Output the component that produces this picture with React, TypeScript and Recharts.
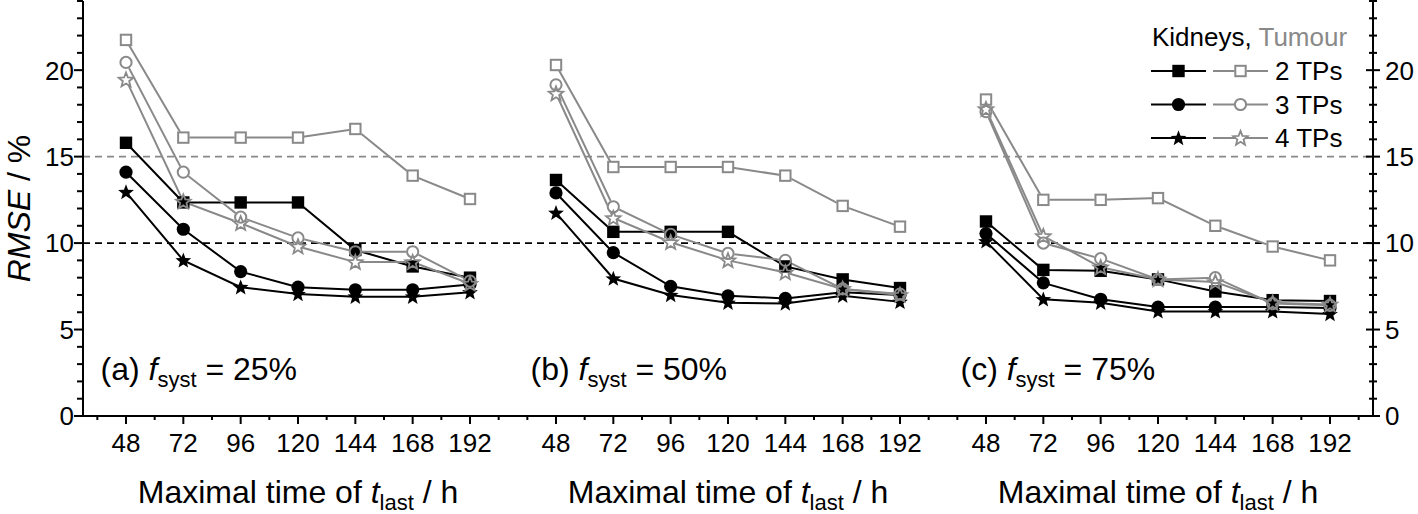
import React from 'react';
import { LineChart, Line, XAxis, YAxis, ReferenceLine } from 'recharts';

// ---------------- data ----------------
const times = [48, 72, 96, 120, 144, 168, 192];
const xMajorTicks = [48, 72, 96, 120, 144, 168, 192];
const xMinorTicks = [36, 60, 84, 108, 132, 156, 180, 204];
const xTicks = [36, 48, 60, 72, 84, 96, 108, 120, 132, 144, 156, 168, 180, 192, 204];
const yTicks = [0, 1, 2, 3, 4, 5, 6, 7, 8, 9, 10, 11, 12, 13, 14, 15, 16, 17, 18, 19, 20, 21, 22, 23, 24];
const yMajorTicks = [0, 5, 10, 15, 20];

// panel (a) f_syst = 25%
const kid2A = [15.8, 12.35, 12.35, 12.35, 9.6, 8.65, 8.0];
const kid3A = [14.1, 10.8, 8.35, 7.45, 7.3, 7.3, 7.6];
const kid4A = [12.95, 9.0, 7.45, 7.05, 6.9, 6.9, 7.15];
const tum2A = [21.75, 16.1, 16.1, 16.1, 16.6, 13.9, 12.55];
const tum3A = [20.45, 14.1, 11.5, 10.3, 9.5, 9.5, 7.8];
const tum4A = [19.45, 12.4, 11.15, 9.8, 8.9, 8.9, 7.65];

// panel (b) f_syst = 50%
const kid2B = [13.65, 10.65, 10.65, 10.65, 8.65, 7.9, 7.4];
const kid3B = [12.9, 9.45, 7.5, 6.95, 6.8, 7.15, 7.0];
const kid4B = [11.75, 7.95, 7.0, 6.55, 6.5, 6.95, 6.6];
const tum2B = [20.3, 14.4, 14.4, 14.4, 13.9, 12.15, 10.95];
const tum3B = [19.15, 12.1, 10.5, 9.4, 9.0, 7.35, 7.05];
const tum4B = [18.65, 11.45, 10.05, 9.0, 8.3, 7.35, 7.0];

// panel (c) f_syst = 75%
const kid2C = [11.25, 8.45, 8.4, 7.9, 7.2, 6.7, 6.65];
const kid3C = [10.55, 7.7, 6.75, 6.3, 6.3, 6.3, 6.25];
const kid4C = [10.1, 6.75, 6.55, 6.05, 6.05, 6.05, 5.9];
const tum2C = [18.3, 12.5, 12.5, 12.6, 11.0, 9.8, 9.0];
const tum3C = [17.6, 10.0, 9.1, 7.9, 8.0, 6.5, 6.4];
const tum4C = [17.75, 10.4, 8.6, 7.9, 7.75, 6.55, 6.45];

const panelNames = ['(a)', '(b)', '(c)'];
const panelFsyst = ['25%', '50%', '75%'];
const legendRows = ['2 TPs', '3 TPs', '4 TPs'];

// ---------------- style ----------------
const FONT = '"Liberation Sans", Arial, Helvetica, sans-serif';
const GRAY = '#898989';
const BLACK = '#000000';
const W = 1418;
const H = 514;
const PLOT_TOP = 1;
const PLOT_BOTTOM = 416;
const PANEL_LEFTS = [83, 513, 943];
const PANEL_W = 430;
const TICK_FONT = 26;

type Shape = 'square' | 'circle' | 'star';

const buildRows = (k2: number[], k3: number[], k4: number[], t2: number[], t3: number[], t4: number[]) =>
  times.map((t, i) => ({ t, k2: k2[i], k3: k3[i], k4: k4[i], t2: t2[i], t3: t3[i], t4: t4[i] }));

const panelRows = [
  buildRows(kid2A, kid3A, kid4A, tum2A, tum3A, tum4A),
  buildRows(kid2B, kid3B, kid4B, tum2B, tum3B, tum4B),
  buildRows(kid2C, kid3C, kid4C, tum2C, tum3C, tum4C),
];

const series: { key: string; shape: Shape; filled: boolean; color: string }[] = [
  { key: 'k2', shape: 'square', filled: true, color: BLACK },
  { key: 'k3', shape: 'circle', filled: true, color: BLACK },
  { key: 'k4', shape: 'star', filled: true, color: BLACK },
  { key: 't2', shape: 'square', filled: false, color: GRAY },
  { key: 't3', shape: 'circle', filled: false, color: GRAY },
  { key: 't4', shape: 'star', filled: false, color: GRAY },
];

function starPath(cx: number, cy: number, R: number, r: number) {
  let d = '';
  for (let i = 0; i < 10; i++) {
    const rad = i % 2 === 0 ? R : r;
    const a = -Math.PI / 2 + (i * Math.PI) / 5;
    d += (i === 0 ? 'M' : 'L') + (cx + rad * Math.cos(a)).toFixed(2) + ',' + (cy + rad * Math.sin(a)).toFixed(2);
  }
  return d + 'Z';
}

function Marker({ cx, cy, shape, filled, color, bg }: { cx: number; cy: number; shape: Shape; filled: boolean; color: string; bg?: boolean }) {
  if (cx == null || cy == null || isNaN(cx) || isNaN(cy)) return <g />;
  if (bg) {
    if (shape === 'square') return <rect x={cx - 6} y={cy - 6} width={12} height={12} fill="#fff" />;
    if (shape === 'circle') return <circle cx={cx} cy={cy} r={6.5} fill="#fff" />;
    return <path d={starPath(cx, cy, 8.5, 3.8)} fill="#fff" />;
  }
  if (filled) {
    if (shape === 'square') return <rect x={cx - 6.2} y={cy - 6.2} width={12.4} height={12.4} fill={color} />;
    if (shape === 'circle') return <circle cx={cx} cy={cy} r={6.6} fill={color} />;
    return <path d={starPath(cx, cy + 0.5, 8.3, 3.5)} fill={color} />;
  }
  if (shape === 'square') return <rect x={cx - 5.2} y={cy - 5.2} width={10.4} height={10.4} fill="none" stroke={color} strokeWidth={2} />;
  if (shape === 'circle') return <circle cx={cx} cy={cy} r={5.6} fill="none" stroke={color} strokeWidth={2} />;
  return <path d={starPath(cx, cy + 0.5, 7.6, 3.3)} fill="none" stroke={color} strokeWidth={1.8} strokeLinejoin="miter" />;
}

// ---------------- ticks ----------------
const isMajorX = (v: number) => xMajorTicks.indexOf(v) >= 0;
const isMajorY = (v: number) => yMajorTicks.indexOf(v) >= 0;

const XTickBottom = (p: any) => {
  const v = p.payload.value;
  const major = isMajorX(v);
  return (
    <g>
      <line x1={p.x} x2={p.x} y1={p.y} y2={p.y + (major ? 8 : 4)} stroke={BLACK} strokeWidth={2} />
      {major && (
        <text x={p.x} y={p.y + 36} textAnchor="middle" fontFamily={FONT} fontSize={TICK_FONT} fill={BLACK}>
          {v}
        </text>
      )}
    </g>
  );
};

const XTickTop = (p: any) => {
  const v = p.payload.value;
  const major = isMajorX(v);
  return <line x1={p.x} x2={p.x} y1={p.y} y2={p.y + (major ? 8 : 5)} stroke={BLACK} strokeWidth={2} />;
};

const YTickLeftOut = (p: any) => {
  const v = p.payload.value;
  const major = isMajorY(v);
  return (
    <g>
      <line x1={p.x - (major ? 9 : 6)} x2={p.x} y1={p.y} y2={p.y} stroke={BLACK} strokeWidth={2} />
      {major && (
        <text x={p.x - 9} y={p.y} dy="0.36em" textAnchor="end" fontFamily={FONT} fontSize={TICK_FONT} fill={BLACK}>
          {v}
        </text>
      )}
    </g>
  );
};

const YTickCross = (p: any) => {
  const v = p.payload.value;
  const major = isMajorY(v);
  const h = major ? 7 : 4;
  return <line x1={p.x - h} x2={p.x + h} y1={p.y} y2={p.y} stroke={BLACK} strokeWidth={2} />;
};

const YTickRightLabel = (p: any) => {
  const v = p.payload.value;
  const major = isMajorY(v);
  const h = major ? 7 : 4;
  return (
    <g>
      <line x1={p.x - h} x2={p.x + h} y1={p.y} y2={p.y} stroke={BLACK} strokeWidth={2} />
      {major && (
        <text x={p.x + 12} y={p.y} dy="0.36em" textAnchor="start" fontFamily={FONT} fontSize={TICK_FONT} fill={BLACK}>
          {v}
        </text>
      )}
    </g>
  );
};

// ---------------- panel ----------------
function Panel({ idx }: { idx: number }) {
  const rows = panelRows[idx];
  const left = PANEL_LEFTS[idx];
  const isFirst = idx === 0;
  const isLast = idx === 2;
  const leftW = isFirst ? left : 0;
  const marginLeft = isFirst ? 0 : left;
  const rightW = isLast ? W - (left + PANEL_W) : 0;
  const marginRight = isLast ? 0 : W - (left + PANEL_W);
  const axisLine = { stroke: BLACK, strokeWidth: 2 };

  const blackS = series.filter((s) => s.filled);
  const grayS = series.filter((s) => !s.filled);

  return (
    <div style={{ position: 'absolute', left: 0, top: 0, width: W, height: H }}>
      <LineChart width={W} height={H} data={rows} margin={{ top: PLOT_TOP, right: marginRight, bottom: 0, left: marginLeft }}>
        <XAxis
          xAxisId="b"
          dataKey="t"
          type="number"
          domain={[30, 210]}
          ticks={xTicks}
          interval={0}
          height={H - PLOT_BOTTOM}
          tickSize={0}
          tickMargin={0}
          tickLine={false}
          tick={XTickBottom}
          axisLine={axisLine}
          allowDataOverflow
        />
        <XAxis
          xAxisId="t"
          orientation="top"
          dataKey="t"
          type="number"
          domain={[30, 210]}
          ticks={xTicks}
          interval={0}
          height={0}
          tickSize={0}
          tickMargin={0}
          tickLine={false}
          tick={XTickTop}
          axisLine={axisLine}
          allowDataOverflow
        />
        <YAxis
          yAxisId="l"
          type="number"
          domain={[0, 24]}
          ticks={yTicks}
          interval={0}
          width={leftW}
          tickSize={0}
          tickMargin={0}
          tickLine={false}
          tick={isFirst ? YTickLeftOut : YTickCross}
          axisLine={axisLine}
          allowDataOverflow
        />
        <YAxis
          yAxisId="r"
          orientation="right"
          type="number"
          domain={[0, 24]}
          ticks={yTicks}
          interval={0}
          width={rightW}
          tickSize={0}
          tickMargin={0}
          tickLine={false}
          tick={isLast ? YTickRightLabel : YTickCross}
          axisLine={axisLine}
          allowDataOverflow
        />
        <ReferenceLine xAxisId="b" yAxisId="l" y={15} stroke={GRAY} strokeWidth={1.6} strokeDasharray="7 5" />
        <ReferenceLine xAxisId="b" yAxisId="l" y={10} stroke={BLACK} strokeWidth={1.6} strokeDasharray="7 5" />
        {series.map((s) => (
          <Line
            key={'line-' + s.key}
            xAxisId="b"
            yAxisId="l"
            dataKey={s.key}
            stroke={s.color}
            strokeWidth={2}
            dot={false}
            activeDot={false}
            isAnimationActive={false}
          />
        ))}
        {grayS.map((s) => (
          <Line
            key={'bg-' + s.key}
            xAxisId="b"
            yAxisId="l"
            dataKey={s.key}
            stroke="none"
            activeDot={false}
            isAnimationActive={false}
            dot={(p: any) => <Marker key={'bg' + s.key + p.index} cx={p.cx} cy={p.cy} shape={s.shape} filled={false} color="#fff" bg />}
          />
        ))}
        {[...blackS, ...grayS].map((s) => (
          <Line
            key={'mk-' + s.key}
            xAxisId="b"
            yAxisId="l"
            dataKey={s.key}
            stroke="none"
            activeDot={false}
            isAnimationActive={false}
            dot={(p: any) => <Marker key={'mk' + s.key + p.index} cx={p.cx} cy={p.cy} shape={s.shape} filled={s.filled} color={s.color} />}
          />
        ))}
      </LineChart>
    </div>
  );
}

// ---------------- overlay texts / legend ----------------
function Overlay() {
  const legendX = 1151;
  const rowY = [71, 104.5, 138];
  return (
    <svg width={W} height={H} style={{ position: 'absolute', left: 0, top: 0, pointerEvents: 'none' }}>
      {/* y title */}
      <text
        transform={`translate(30, ${(PLOT_TOP + PLOT_BOTTOM) / 2}) rotate(-90)`}
        textAnchor="middle"
        fontFamily={FONT}
        fontSize={32}
        fill={BLACK}
      >
        <tspan fontStyle="italic">RMSE</tspan>
        <tspan> / %</tspan>
      </text>
      {/* x titles and panel labels */}
      {PANEL_LEFTS.map((l, i) => (
        <g key={'pt' + i}>
          <text x={l + PANEL_W / 2} y={503} textAnchor="middle" fontFamily={FONT} fontSize={32} fill={BLACK}>
            <tspan>Maximal time of </tspan>
            <tspan fontStyle="italic">t</tspan>
            <tspan fontSize={22} dy={7}>last</tspan>
            <tspan dy={-7}> / h</tspan>
          </text>
          <text x={l + 17.5} y={380} fontFamily={FONT} fontSize={32} fill={BLACK}>
            <tspan>{panelNames[i]} </tspan>
            <tspan fontStyle="italic">f</tspan>
            <tspan fontSize={22} dy={7}>syst</tspan>
            <tspan dy={-7}> = {panelFsyst[i]}</tspan>
          </text>
        </g>
      ))}
      {/* legend */}
      <text x={legendX + 1} y={46} fontFamily={FONT} fontSize={26}>
        <tspan fill={BLACK}>Kidneys,</tspan>
        <tspan fill={GRAY}> Tumour</tspan>
      </text>
      {legendRows.map((lab, i) => {
        const k = series[i];
        const t = series[i + 3];
        const cy = rowY[i];
        return (
          <g key={'lg' + i}>
            <line x1={legendX} x2={legendX + 55} y1={cy} y2={cy} stroke={BLACK} strokeWidth={2} />
            <Marker cx={legendX + 27.5} cy={cy} shape={k.shape} filled color={BLACK} />
            <line x1={legendX + 62} x2={legendX + 117} y1={cy} y2={cy} stroke={GRAY} strokeWidth={2} />
            <Marker cx={legendX + 89.5} cy={cy} shape={t.shape} filled color="#fff" bg />
            <Marker cx={legendX + 89.5} cy={cy} shape={t.shape} filled={false} color={GRAY} />
            <text x={legendX + 124} y={cy + 9} fontFamily={FONT} fontSize={26} fill={BLACK}>
              {lab}
            </text>
          </g>
        );
      })}
    </svg>
  );
}

export default function App() {
  return (
    <div style={{ position: 'absolute', left: 0, top: 0, width: W, height: H, background: '#fff', overflow: 'hidden' }}>
      <Panel idx={0} />
      <Panel idx={1} />
      <Panel idx={2} />
      <Overlay />
    </div>
  );
}
